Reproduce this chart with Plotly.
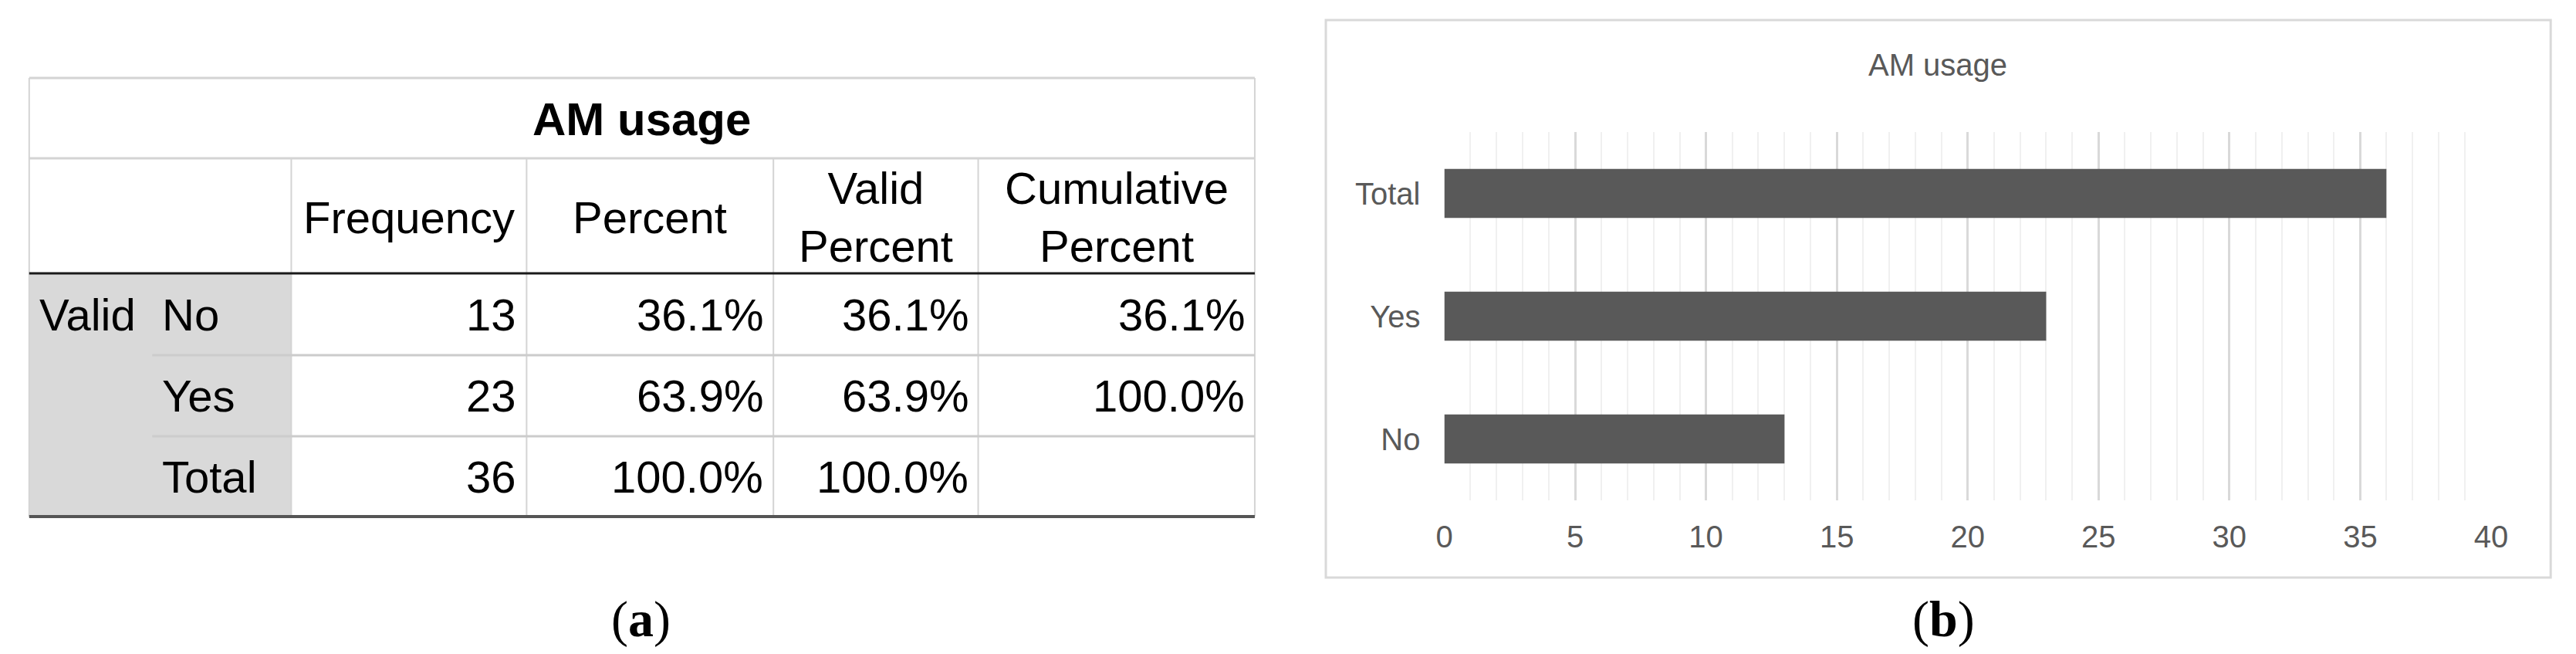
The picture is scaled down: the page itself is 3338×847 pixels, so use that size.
import plotly.graph_objs as go

# table data
tbl_title = 'AM usage'
group_label = 'Valid'
row_labels = ['No', 'Yes', 'Total']
col_headers = ['Frequency', 'Percent', 'Valid<br>Percent', 'Cumulative<br>Percent']
frequency = [13, 23, 36]
percent = ['36.1%', '63.9%', '100.0%']
valid_percent = ['36.1%', '63.9%', '100.0%']
cumulative_percent = ['36.1%', '100.0%', '']

# bar chart data
chart_title = 'AM usage'
categories = ['No', 'Yes', 'Total']
counts = [13, 23, 36]
x_ticks = list(range(0, 41, 5))

captions = ['(<b>a</b>)', '(<b>b</b>)']

W, H = 3338, 847


def fx(p):
    return p / W


def fy(p):
    return 1 - p / H


def line(x0, y0, x1, y1, color, width):
    return dict(type='line', xref='paper', yref='paper',
                x0=fx(x0), y0=fy(y0), x1=fx(x1), y1=fy(y1),
                line=dict(color=color, width=width), layer='above')


def txt(x, y, s, size, xanchor='center', color='black', family='Liberation Sans'):
    return dict(x=fx(x), y=fy(y), xref='paper', yref='paper', text=s,
                showarrow=False, xanchor=xanchor, yanchor='middle',
                font=dict(family=family, size=size, color=color))


fig = go.Figure(data=[go.Bar(x=counts, y=categories, orientation='h', width=0.4,
                             marker=dict(color='#595959', line=dict(width=0)),
                             hoverinfo='skip', showlegend=False)])

# ---- table (a) ----
col_x = [19, 362, 670, 993, 1261, 1623]   # column edges
row_y = [93, 197, 346, 452, 557, 661]      # row edges
sub_x = 180                                # start of the row-label column
pad = 11
light = '#d4d4d4'

shapes = [
    dict(type='rect', xref='paper', yref='paper', x0=fx(col_x[0]), x1=fx(col_x[1]),
         y0=fy(row_y[2]), y1=fy(row_y[5]), fillcolor='#d9d9d9', line=dict(width=0), layer='below'),
    line(col_x[0], row_y[0], col_x[-1], row_y[0], light, 3),
    line(col_x[0], row_y[1], col_x[-1], row_y[1], light, 3),
    line(col_x[0], row_y[0], col_x[0], row_y[5], light, 2),
    line(col_x[-1], row_y[0], col_x[-1], row_y[5], light, 2),
]
for cx in col_x[1:-1]:
    shapes.append(line(cx, row_y[1], cx, row_y[5], light, 2))
for ry in row_y[3:5]:
    shapes.append(line(sub_x, ry, col_x[-1], ry, '#cccccc', 3))
shapes.append(line(col_x[0], row_y[2], col_x[-1], row_y[2], '#1a1a1a', 3))
shapes.append(line(col_x[0], row_y[5], col_x[-1], row_y[5], '#555555', 4))

# ---- chart panel (b) border ----
shapes.append(dict(type='rect', xref='paper', yref='paper', x0=fx(1716), x1=fx(3319),
                   y0=fy(740), y1=fy(18), line=dict(color='#d9d9d9', width=3), layer='below'))

annots = [txt((col_x[0] + col_x[-1]) / 2, 146, '<b>%s</b>' % tbl_title, 60)]
for j, h in enumerate(col_headers):
    annots.append(txt((col_x[j + 1] + col_x[j + 2]) / 2, 273, h, 58))

cols = [frequency, percent, valid_percent, cumulative_percent]
for i, lab in enumerate(row_labels):
    yc = (row_y[i + 2] + row_y[i + 3]) / 2
    if i == 0:
        annots.append(txt(col_x[0] + pad, yc, group_label, 58, 'left'))
    annots.append(txt(sub_x + pad, yc, lab, 58, 'left'))
    for j, col in enumerate(cols):
        annots.append(txt(col_x[j + 2] - pad, yc, str(col[i]), 58, 'right'))

# chart title and captions
annots.append(txt(2517, 76, chart_title, 40, color='#595959'))
annots.append(txt(820, 794, captions[0], 66, family='Liberation Serif'))
annots.append(txt(2524, 794, captions[1], 66, family='Liberation Serif'))

fig.update_layout(
    width=W, height=H,
    paper_bgcolor='white', plot_bgcolor='white',
    margin=dict(l=0, r=0, t=0, b=0),
    shapes=shapes,
    annotations=annots,
    xaxis=dict(domain=[fx(1871), fx(3241)], range=[0, 40], tickvals=x_ticks,
               showgrid=True, gridcolor='#d9d9d9', gridwidth=3,
               minor=dict(dtick=1, showgrid=True, gridcolor='#f0f0f0', gridwidth=2),
               zeroline=False, showline=False, ticks='', ticklabelstandoff=20,
               tickfont=dict(family='Liberation Sans', size=40, color='#595959'),
               fixedrange=True),
    yaxis=dict(domain=[fy(640), fy(163)], range=[-0.5, 2.5], type='category',
               categoryarray=categories, showgrid=False, zeroline=False, showline=False,
               ticks='', ticklabelstandoff=30,
               tickfont=dict(family='Liberation Sans', size=40, color='#595959'),
               fixedrange=True),
)

fig.write_html('out.html')
